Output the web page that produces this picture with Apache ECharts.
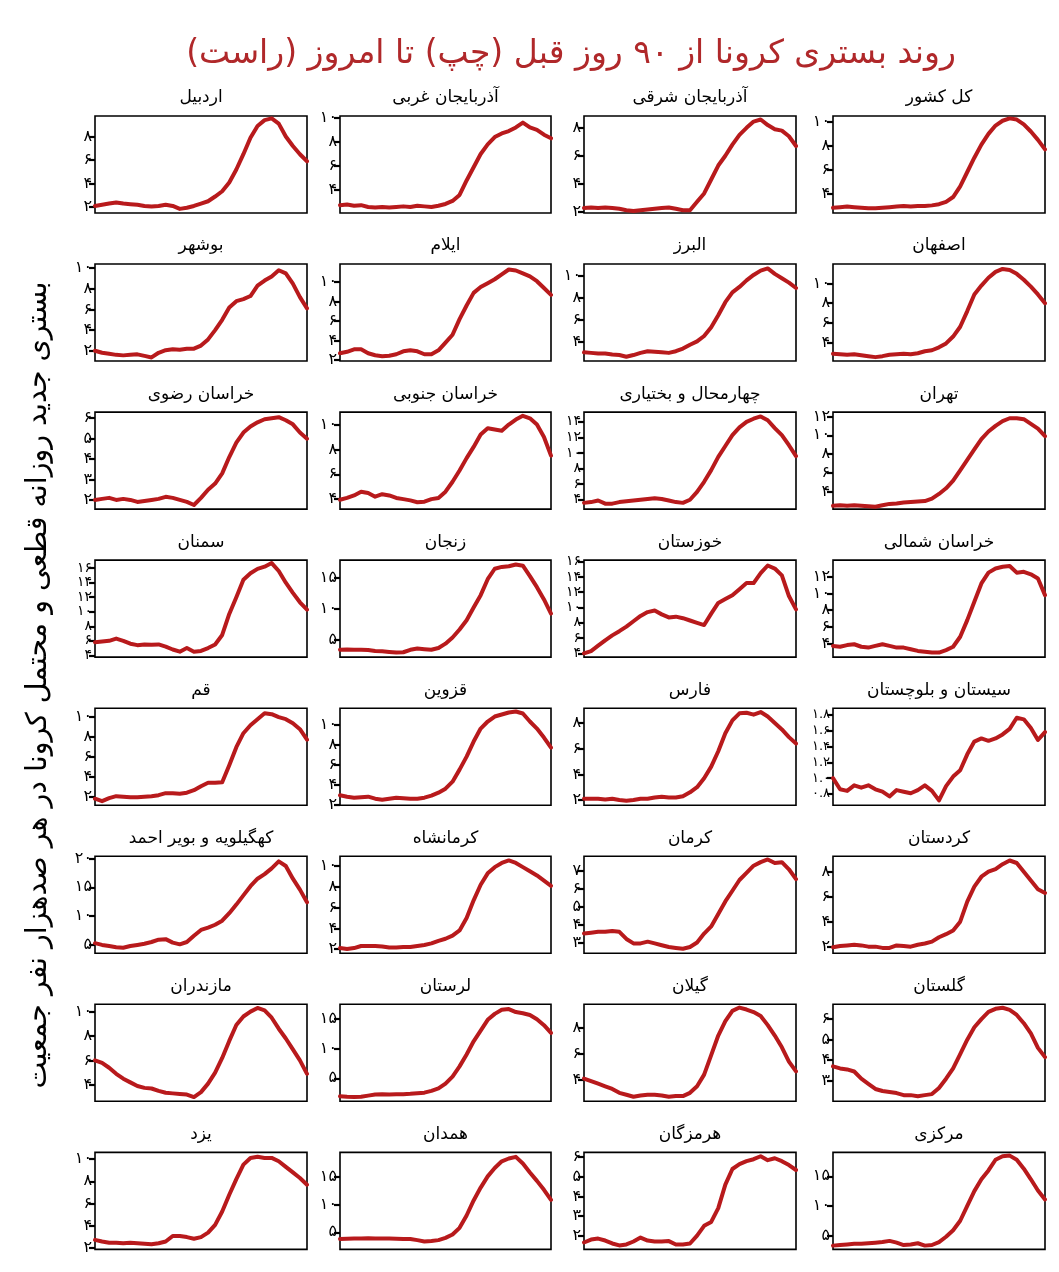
<!DOCTYPE html>
<html><head><meta charset="utf-8">
<script src="https://cdn.jsdelivr.net/npm/echarts@6/dist/echarts.min.js"></script>
<style>html,body{margin:0;padding:0;background:#fff}#c{width:1059px;height:1272px}</style>
</head><body><div id="c"></div>
<script>
// ---- panel titles (row-major, left to right) ----
const titles = [
  'اردبیل','آذربایجان غربی','آذربایجان شرقی','کل کشور',
  'بوشهر','ایلام','البرز','اصفهان',
  'خراسان رضوی','خراسان جنوبی','چهارمحال و بختیاری','تهران',
  'سمنان','زنجان','خوزستان','خراسان شمالی',
  'قم','قزوین','فارس','سیستان و بلوچستان',
  'کهگیلویه و بویر احمد','کرمانشاه','کرمان','کردستان',
  'مازندران','لرستان','گیلان','گلستان',
  'یزد','همدان','هرمزگان','مرکزی'
];
// ---- series values (31 samples across 90 days) ----
const ardabil    = [2.1,2.2,2.3,2.4,2.3,2.25,2.2,2.1,2.05,2.1,2.2,2.1,1.85,1.95,2.1,2.3,2.5,2.9,3.35,4.1,5.2,6.5,7.9,8.9,9.4,9.55,9.1,8.0,7.2,6.5,5.9];
const azGharbi   = [2.75,2.8,2.7,2.75,2.6,2.55,2.6,2.55,2.6,2.65,2.6,2.7,2.65,2.6,2.7,2.85,3.1,3.6,4.8,5.9,7.0,7.8,8.4,8.7,8.9,9.2,9.6,9.2,9.0,8.6,8.3];
const azSharghi  = [2.25,2.3,2.25,2.3,2.25,2.2,2.1,2.05,2.1,2.15,2.2,2.25,2.3,2.2,2.1,2.1,2.7,3.3,4.3,5.3,6.0,6.8,7.5,8.0,8.45,8.6,8.2,7.9,7.8,7.4,6.7];
const kolKeshvar = [2.8,2.85,2.9,2.85,2.8,2.75,2.75,2.8,2.85,2.9,2.95,2.9,2.95,2.95,3.0,3.1,3.3,3.7,4.6,5.8,7.0,8.1,9.0,9.7,10.1,10.3,10.2,9.8,9.2,8.5,7.7];
const bushehr    = [2.0,1.8,1.7,1.6,1.55,1.6,1.65,1.5,1.35,1.8,2.05,2.15,2.1,2.2,2.2,2.5,3.1,4.0,5.0,6.2,6.8,7.0,7.3,8.3,8.8,9.2,9.8,9.5,8.5,7.2,6.1];
const ilam       = [2.7,2.85,3.1,3.1,2.7,2.5,2.4,2.45,2.6,2.9,3.0,2.9,2.6,2.6,3.0,3.8,4.6,6.2,7.6,8.9,9.5,9.9,10.3,10.8,11.3,11.2,10.9,10.6,10.1,9.4,8.7];
const alborz     = [3.0,2.95,2.9,2.9,2.8,2.75,2.6,2.75,2.95,3.1,3.05,3.0,2.95,3.1,3.35,3.7,4.0,4.5,5.3,6.4,7.6,8.5,9.0,9.6,10.1,10.5,10.7,10.2,9.8,9.4,8.9];
const isfahan    = [2.85,2.8,2.75,2.8,2.7,2.6,2.5,2.6,2.75,2.8,2.85,2.8,2.9,3.1,3.2,3.5,3.9,4.6,5.6,7.2,8.9,9.8,10.6,11.2,11.5,11.4,11.0,10.4,9.7,8.9,8.0];
const khRazavi   = [2.0,2.05,2.1,2.0,2.05,2.0,1.9,1.95,2.0,2.05,2.15,2.1,2.0,1.9,1.75,2.1,2.5,2.8,3.3,4.1,4.8,5.3,5.6,5.8,5.95,6.0,6.05,5.9,5.7,5.3,5.0];
const khJonubi   = [3.95,4.1,4.3,4.6,4.5,4.2,4.4,4.3,4.1,4.0,3.9,3.75,3.8,4.0,4.1,4.6,5.4,6.3,7.3,8.2,9.2,9.7,9.6,9.5,10.0,10.4,10.7,10.5,10.0,9.0,7.5];
const chaharmahal= [3.6,3.7,3.9,3.5,3.5,3.7,3.8,3.9,4.0,4.1,4.2,4.1,3.9,3.7,3.6,4.0,5.0,6.3,7.8,9.5,10.9,12.3,13.3,14.0,14.4,14.7,14.2,13.2,12.3,11.0,9.6];
const tehran     = [2.55,2.6,2.55,2.6,2.55,2.5,2.45,2.6,2.75,2.8,2.9,2.95,3.0,3.05,3.3,3.8,4.4,5.2,6.3,7.4,8.5,9.6,10.4,11.0,11.5,11.8,11.8,11.7,11.2,10.7,9.9];
const semnan     = [5.8,5.9,6.0,6.3,6.0,5.6,5.4,5.5,5.45,5.5,5.2,4.8,4.5,5.0,4.5,4.6,5.0,5.5,6.8,9.7,12.0,14.4,15.3,15.9,16.2,16.7,15.6,14.0,12.6,11.3,10.3];
const zanjan     = [3.3,3.35,3.3,3.3,3.25,3.1,3.05,2.95,2.85,2.9,3.3,3.5,3.4,3.3,3.6,4.3,5.3,6.6,8.1,10.2,12.2,14.8,16.5,16.8,16.9,17.2,17.0,15.3,13.5,11.5,9.2];
const khuzestan  = [4.0,4.3,5.0,5.7,6.35,6.9,7.5,8.2,8.9,9.4,9.6,9.1,8.7,8.8,8.6,8.3,8.0,7.7,9.2,10.6,11.1,11.6,12.4,13.2,13.2,14.5,15.5,15.1,14.2,11.5,9.75];
const khShomali  = [3.7,3.6,3.8,3.9,3.6,3.5,3.7,3.9,3.7,3.5,3.5,3.3,3.1,3.0,2.9,2.9,3.2,3.6,4.8,6.8,9.0,11.2,12.5,13.0,13.2,13.3,12.5,12.6,12.3,11.8,9.8];
const qom        = [1.85,1.6,1.9,2.1,2.05,2.0,2.0,2.05,2.1,2.2,2.4,2.4,2.35,2.45,2.7,3.1,3.45,3.45,3.5,5.2,7.0,8.4,9.2,9.8,10.4,10.3,10.0,9.8,9.4,8.8,7.75];
const qazvin     = [2.95,2.8,2.7,2.75,2.8,2.6,2.5,2.6,2.7,2.65,2.6,2.6,2.7,2.9,3.2,3.6,4.3,5.5,6.8,8.3,9.6,10.3,10.8,11.0,11.2,11.3,11.1,10.3,9.6,8.7,7.7];
const fars       = [2.1,2.1,2.1,2.05,2.1,2.0,1.95,2.0,2.1,2.1,2.2,2.25,2.2,2.2,2.3,2.6,3.0,3.7,4.6,5.8,7.2,8.2,8.75,8.8,8.65,8.85,8.5,8.0,7.5,6.9,6.4];
const sistan     = [1.0,0.86,0.84,0.91,0.88,0.91,0.86,0.83,0.77,0.85,0.83,0.81,0.85,0.91,0.84,0.72,0.9,1.02,1.1,1.3,1.46,1.5,1.47,1.5,1.55,1.62,1.76,1.74,1.63,1.48,1.58];
const kohgiluyeh = [5.3,5.0,4.8,4.6,4.5,4.8,5.0,5.2,5.5,5.9,6.0,5.4,5.1,5.5,6.6,7.6,8.0,8.5,9.2,10.5,12.0,13.6,15.2,16.5,17.3,18.3,19.5,18.7,16.5,14.6,12.4];
const kermanshah = [2.1,2.0,2.1,2.3,2.3,2.3,2.25,2.15,2.15,2.2,2.2,2.3,2.4,2.55,2.8,3.0,3.3,3.8,5.0,6.7,8.2,9.3,9.9,10.3,10.55,10.3,9.9,9.5,9.1,8.6,8.1];
const kerman     = [3.5,3.55,3.6,3.6,3.65,3.6,3.2,2.95,2.95,3.05,2.95,2.85,2.75,2.7,2.65,2.75,3.0,3.5,3.9,4.6,5.3,5.9,6.5,6.9,7.3,7.5,7.65,7.45,7.5,7.1,6.55];
const kurdistan  = [1.95,2.05,2.1,2.15,2.1,2.0,2.0,1.9,1.9,2.1,2.05,2.0,2.15,2.25,2.4,2.75,3.0,3.3,4.0,5.6,6.8,7.6,8.0,8.2,8.6,8.9,8.7,8.0,7.3,6.6,6.3];
const mazandaran = [6.0,5.8,5.4,4.9,4.5,4.2,3.9,3.75,3.7,3.5,3.35,3.3,3.25,3.2,3.0,3.4,4.1,5.0,6.2,7.6,8.9,9.6,10.0,10.3,10.1,9.5,8.6,7.8,6.9,6.0,4.9];
const lorestan   = [2.0,1.9,1.85,1.9,2.1,2.3,2.35,2.3,2.35,2.35,2.4,2.5,2.6,2.9,3.3,4.1,5.3,7.0,9.0,11.2,13.0,14.8,15.8,16.5,16.6,16.1,15.9,15.6,14.9,13.9,12.6];
const gilan      = [4.1,3.9,3.7,3.5,3.3,3.0,2.85,2.7,2.8,2.85,2.85,2.8,2.7,2.75,2.75,3.0,3.5,4.4,5.9,7.4,8.5,9.3,9.55,9.4,9.2,8.9,8.2,7.4,6.5,5.4,4.65];
const golestan   = [3.7,3.6,3.55,3.45,3.1,2.85,2.6,2.5,2.45,2.4,2.3,2.3,2.25,2.3,2.35,2.65,3.1,3.6,4.3,5.0,5.6,6.0,6.35,6.5,6.55,6.45,6.2,5.8,5.3,4.6,4.15];
const yazd       = [2.75,2.6,2.5,2.5,2.45,2.5,2.45,2.4,2.35,2.45,2.6,3.1,3.1,3.0,2.85,3.0,3.4,4.1,5.3,6.8,8.2,9.5,10.1,10.2,10.1,10.1,9.8,9.3,8.8,8.3,7.7];
const hamadan    = [3.8,3.85,3.9,3.9,3.95,3.9,3.9,3.9,3.85,3.8,3.8,3.6,3.35,3.45,3.6,4.0,4.6,5.8,8.0,10.7,13.0,15.0,16.5,17.7,18.2,18.5,17.3,15.7,14.2,12.6,10.8];
const hormozgan  = [1.65,1.8,1.85,1.75,1.6,1.5,1.55,1.7,1.9,1.75,1.7,1.7,1.72,1.55,1.55,1.6,2.0,2.5,2.7,3.4,4.6,5.4,5.65,5.8,5.9,6.05,5.85,5.95,5.8,5.6,5.35];
const markazi    = [3.3,3.4,3.5,3.6,3.6,3.7,3.8,3.9,4.1,3.8,3.4,3.5,3.7,3.3,3.4,3.9,4.8,5.9,7.5,10.0,12.5,14.5,16.0,17.8,18.4,18.5,17.8,16.3,14.5,12.6,11.1];

const seriesValues = [
  ardabil, azGharbi, azSharghi, kolKeshvar,
  bushehr, ilam, alborz, isfahan,
  khRazavi, khJonubi, chaharmahal, tehran,
  semnan, zanjan, khuzestan, khShomali,
  qom, qazvin, fars, sistan,
  kohgiluyeh, kermanshah, kerman, kurdistan,
  mazandaran, lorestan, gilan, golestan,
  yazd, hamadan, hormozgan, markazi
];
// ---- y-axis extents ----
const yMin = [1.5,2.1,1.9,2.36, 1.0,1.9,2.2,2.1, 1.55,3.2,2.8,2.2, 3.75,2.1,3.5,2.35, 1.2,1.95,1.6,0.66, 3.55,1.6,2.4,1.47, 2.65,1.15,2.35,2.0, 1.9,1.95,1.3,2.67];
const yMax = [9.75,10.15,8.85,10.5, 10.4,11.86,11.1,12.0, 6.3,11.0,15.25,12.45, 17.1,17.9,16.2,14.0, 10.9,11.63,9.15,1.88, 20.4,10.95,7.83,9.24, 10.6,17.4,9.8,6.72, 10.6,19.3,6.25,19.05];
// ---- tick labels ----
const yTicks = [
  [2,4,6,8],[4,6,8,10],[2,4,6,8],[4,6,8,10],
  [2,4,6,8,10],[2,4,6,8,10],[4,6,8,10],[4,6,8,10],
  [2,3,4,5,6],[4,6,8,10],[4,6,8,10,12,14],[4,6,8,10,12],
  [4,6,8,10,12,14,16],[5,10,15],[4,6,8,10,12,14,16],[4,6,8,10,12],
  [2,4,6,8,10],[2,4,6,8,10],[2,4,6,8],[0.8,1.0,1.2,1.4,1.6,1.8],
  [5,10,15,20],[2,4,6,8,10],[3,4,5,6,7],[2,4,6,8],
  [4,6,8,10],[5,10,15],[4,6,8],[3,4,5,6],
  [2,4,6,8,10],[5,10,15],[2,3,4,5,6],[5,10,15]
];
const mainTitle = 'روند بستری کرونا از ۹۰ روز قبل (چپ) تا امروز (راست)';
const yTitle = 'بستری جدید روزانه قطعی و محتمل کرونا در هر صدهزار نفر جمعیت';

const FA = '۰۱۲۳۴۵۶۷۸۹';
function toFa(s){ return String(s).replace(/\d/g, d => FA[+d]); }

const colLeft = [95, 340, 584, 833];
const colWidth = [212, 211, 212, 212];
const rowTop0 = 116, rowPitch = 148.05, boxH = 97;
const FONT = 'DejaVu Sans';
const RED = '#b81a1c';

const grids = [], xAxes = [], yAxes = [], series = [], graphics = [];
const xCats = seriesValues[0].map((_, i) => i);
seriesValues.forEach((vals, i) => {
  const r = Math.floor(i / 4), c = i % 4;
  const top = rowTop0 + r * rowPitch;
  grids.push({ left: colLeft[c], top: top, width: colWidth[c], height: boxH,
    show: true, borderColor: '#000', borderWidth: 1.6, backgroundColor: 'transparent' });
  xAxes.push({ gridIndex: i, type: 'category', data: xCats, boundaryGap: false, show: false });
  const dec = (i === 19) ? 1 : 0;
  const dense = yTicks[i].length > 5;
  yAxes.push({ gridIndex: i, type: 'value', min: yMin[i], max: yMax[i],
    axisLine: { show: false },
    splitLine: { show: false },
    axisTick: { show: true, length: 6, inside: false, customValues: yTicks[i], lineStyle: { color: '#000', width: 2.2 } },
    axisLabel: { show: true, customValues: yTicks[i], margin: 3, fontSize: dec ? 13 : (dense ? 14 : 16), lineHeight: 14, color: '#000', fontFamily: FONT,
      formatter: v => toFa(dec ? Number(v).toFixed(1) : Math.round(v)) }
  });
  series.push({ type: 'line', xAxisIndex: i, yAxisIndex: i, data: vals, symbol: 'none', smooth: false,
    lineStyle: { color: RED, width: 4, cap: 'round', join: 'round' }, silent: true });
  graphics.push({ type: 'text', x: colLeft[c] + colWidth[c] / 2, y: top - 18,
    style: { text: titles[i], fill: '#000', font: '17px "' + FONT + '"', textAlign: 'center', textVerticalAlign: 'middle' } });
});
graphics.push({ type: 'text', x: 571, y: 54,
  style: { text: mainTitle + '\u200F', fill: '#b0282a', font: '33px "' + FONT + '"', textAlign: 'center', textVerticalAlign: 'middle' } });
graphics.push({ type: 'text', x: 39, y: 685, rotation: Math.PI / 2,
  style: { text: yTitle, fill: '#000', font: '28.5px "' + FONT + '"', textAlign: 'center', textVerticalAlign: 'middle' } });

const chart = echarts.init(document.getElementById('c'), null, { renderer: 'canvas' });
chart.setOption({ animation: false, backgroundColor: '#fff', grid: grids, xAxis: xAxes, yAxis: yAxes, series: series, graphic: graphics });
</script></body></html>
